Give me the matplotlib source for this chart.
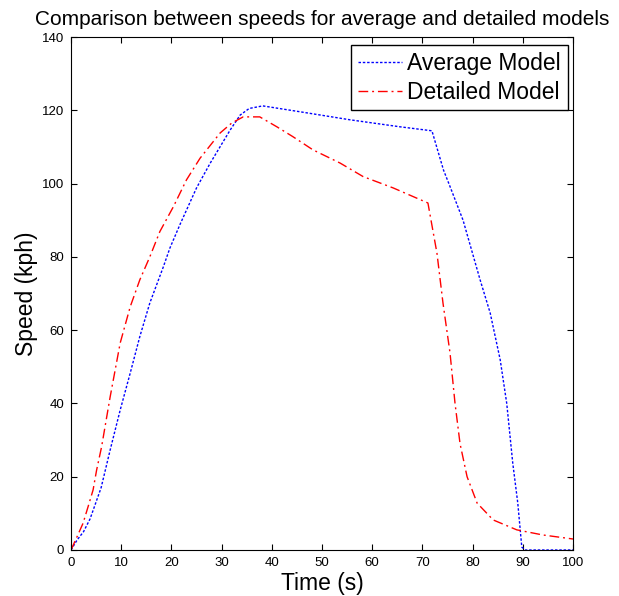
import matplotlib
matplotlib.use("Agg")
import matplotlib.pyplot as plt

plt.rcParams['font.family'] = ['Liberation Sans', 'DejaVu Sans']

avg_t = [0, 1.2, 2.5, 3.8, 6, 7.8, 9.8, 11.8, 13.7, 15.7, 18.4, 19.7, 21.7, 25, 27.7, 31.7, 33.7, 35.5, 38.2,
         45.6, 55.6, 65.5, 71.9,
         74.2, 75.5, 78.1, 81.5, 83.5, 85.5, 86.8, 88, 89, 89.8, 90.5, 95, 100]
avg_v = [0, 2.7, 5, 8.5, 17, 27.3, 38.2, 48.3, 58.2, 67.4, 77.3, 82.4, 88.8, 98.8, 105.5, 114.6, 118.7, 120.5, 121.2,
         119.6, 117.4, 115.5, 114.4,
         103.7, 99.2, 90, 73.7, 64.7, 51.9, 40, 23.7, 12.8, 0.8, 0, 0, 0]

det_t = [0, 1, 2.4, 3.4, 4.4, 5.1, 6.1, 7.8, 9.8, 11.8, 13.7, 15.7, 17.7, 20.4, 23, 25.7, 29.7, 32, 34.3, 37.6,
         41, 44.2, 48.2, 53.6, 58.2, 64.2, 71.1,
         72.9, 74.1, 75.5, 76.5, 77.5, 78.9, 80.9, 84.1, 88.8, 94, 100]
det_v = [0, 3, 7.3, 11.8, 16.4, 21.8, 28.2, 41.8, 56.5, 66.4, 73.7, 80, 86.9, 93.7, 101, 106.9, 113.8, 116.5, 118.2, 118.2,
         115.5, 112.8, 109.2, 105.6, 101.9, 98.8, 94.7,
         81, 67.4, 53.8, 40, 29, 20, 12.8, 8.2, 5.5, 4.1, 3.0]

fig = plt.figure(figsize=(6.19, 5.96), dpi=100)
ax = fig.add_axes([71/619, 1-550/596, (573-71)/619, (550-37)/596])

ax.plot(avg_t, avg_v, color='blue', linestyle=(0, (1.8, 1.3)), linewidth=1.0, label='Average Model')
ax.plot(det_t, det_v, color='red', linestyle=(0, (7.0, 2.8, 1.4, 2.8)), linewidth=1.0, label='Detailed Model')

ax.set_xlim(0, 100)
ax.set_ylim(0, 140)
ax.set_xticks(range(0, 101, 10))
ax.set_yticks(range(0, 141, 20))
ax.tick_params(direction='in', top=True, right=True, labelsize=9.5, length=4, pad=5)
ax.set_title('Comparison between speeds for average and detailed models', fontsize=15, pad=8.5)
ax.set_xlabel('Time (s)', fontsize=16.5, labelpad=2.5)
ax.set_ylabel('Speed (kph)', fontsize=16.5, labelpad=3)

leg = ax.legend(loc='upper right', bbox_to_anchor=((568-71)/502, (550-45)/513), borderaxespad=0,
                fontsize=16.5, fancybox=False, framealpha=1,
                edgecolor='black', handlelength=1.9, borderpad=0.3, labelspacing=0.25,
                handletextpad=0.25)
leg.get_frame().set_linewidth(1.0)

fig.savefig('out.png', dpi=100)
